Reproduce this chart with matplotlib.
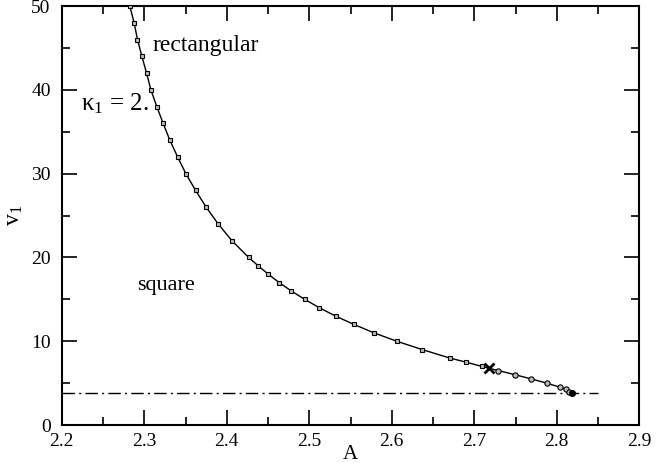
import numpy as np
import matplotlib.pyplot as plt
from matplotlib.ticker import MultipleLocator

plt.rcParams['font.family'] = ['Liberation Serif', 'DejaVu Serif']
plt.rcParams['mathtext.fontset'] = 'stix'

# square branch
a_sq = [2.2825, 2.2877, 2.2918, 2.2971, 2.3028, 2.3080, 2.3152, 2.3229, 2.3310,
        2.3404, 2.3504, 2.3622, 2.3750, 2.3896, 2.4062, 2.4265, 2.4381, 2.4503,
        2.4636, 2.4782, 2.4944, 2.5121, 2.5320, 2.5542, 2.5785, 2.6060, 2.6371,
        2.6701, 2.6901, 2.7091]
v_sq = [50, 48, 46, 44, 42, 40, 38, 36, 34, 32, 30, 28, 26, 24, 22, 20, 19, 18,
        17, 16, 15, 14, 13, 12, 11, 10, 9, 8, 7.5, 7]

# circle branch
a_ci = [2.7293, 2.7496, 2.7690, 2.7880, 2.8042, 2.8114, 2.8154, 2.8183]
v_ci = [6.5, 6.0, 5.5, 5.0, 4.5, 4.25, 4.0, 3.78]

# special point
a_x, v_x = 2.7184, 6.75

# threshold line
v_thr = 3.78
a_thr = [2.2, 2.85]

fig = plt.figure(figsize=(6.57, 4.63), dpi=100)
ax = fig.add_axes([0.094, 0.082, 0.879, 0.905])

a_all = a_sq + [a_x] + a_ci
v_all = v_sq + [v_x] + v_ci
ax.plot(a_all, v_all, color='black', lw=1.0, zorder=2)
ax.plot(a_sq, v_sq, ls='none', marker='s', ms=3.5, mfc='#bbbbbb', mec='black', mew=0.8, zorder=3)
ax.plot(a_ci, v_ci, ls='none', marker='o', ms=3.8, mfc='#bbbbbb', mec='black', mew=0.8, zorder=3)
ax.plot([a_ci[-1]], [v_ci[-1]], ls='none', marker='o', ms=4, mfc='black', mec='black', zorder=4)
ax.plot([a_x], [v_x], ls='none', marker='x', ms=7, mec='black', mew=2, zorder=4)

ax.plot(a_thr, [v_thr, v_thr], color='black', lw=1.0, ls=(0, (9, 3, 1.5, 3)))

ax.set_xlim(2.2, 2.9)
ax.set_ylim(0, 50)
ax.xaxis.set_major_locator(MultipleLocator(0.1))
ax.xaxis.set_minor_locator(MultipleLocator(0.05))
ax.yaxis.set_major_locator(MultipleLocator(10))
ax.yaxis.set_minor_locator(MultipleLocator(5))
ax.tick_params(which='both', direction='in', top=True, right=True, labelsize=14, width=1.2)
ax.tick_params(which='major', length=11)
ax.tick_params(axis='x', which='major', pad=6)
ax.tick_params(axis='y', which='major', pad=8)
ax.tick_params(which='minor', length=6)
for s in ax.spines.values():
    s.set_linewidth(1.5)

ax.set_xlabel('A', fontsize=15, labelpad=-4)
ax.set_ylabel('$\\mathregular{v_1}$', fontsize=17, labelpad=4)

ax.text(2.310, 45.3, 'rectangular', fontsize=17, va='center')
ax.text(2.291, 16.7, 'square', fontsize=16, va='center')
ax.text(2.223, 38.4, '$\\mathregular{\\kappa_1}$ = 2.', fontsize=18, va='center')

plt.savefig('out.png', dpi=100)
